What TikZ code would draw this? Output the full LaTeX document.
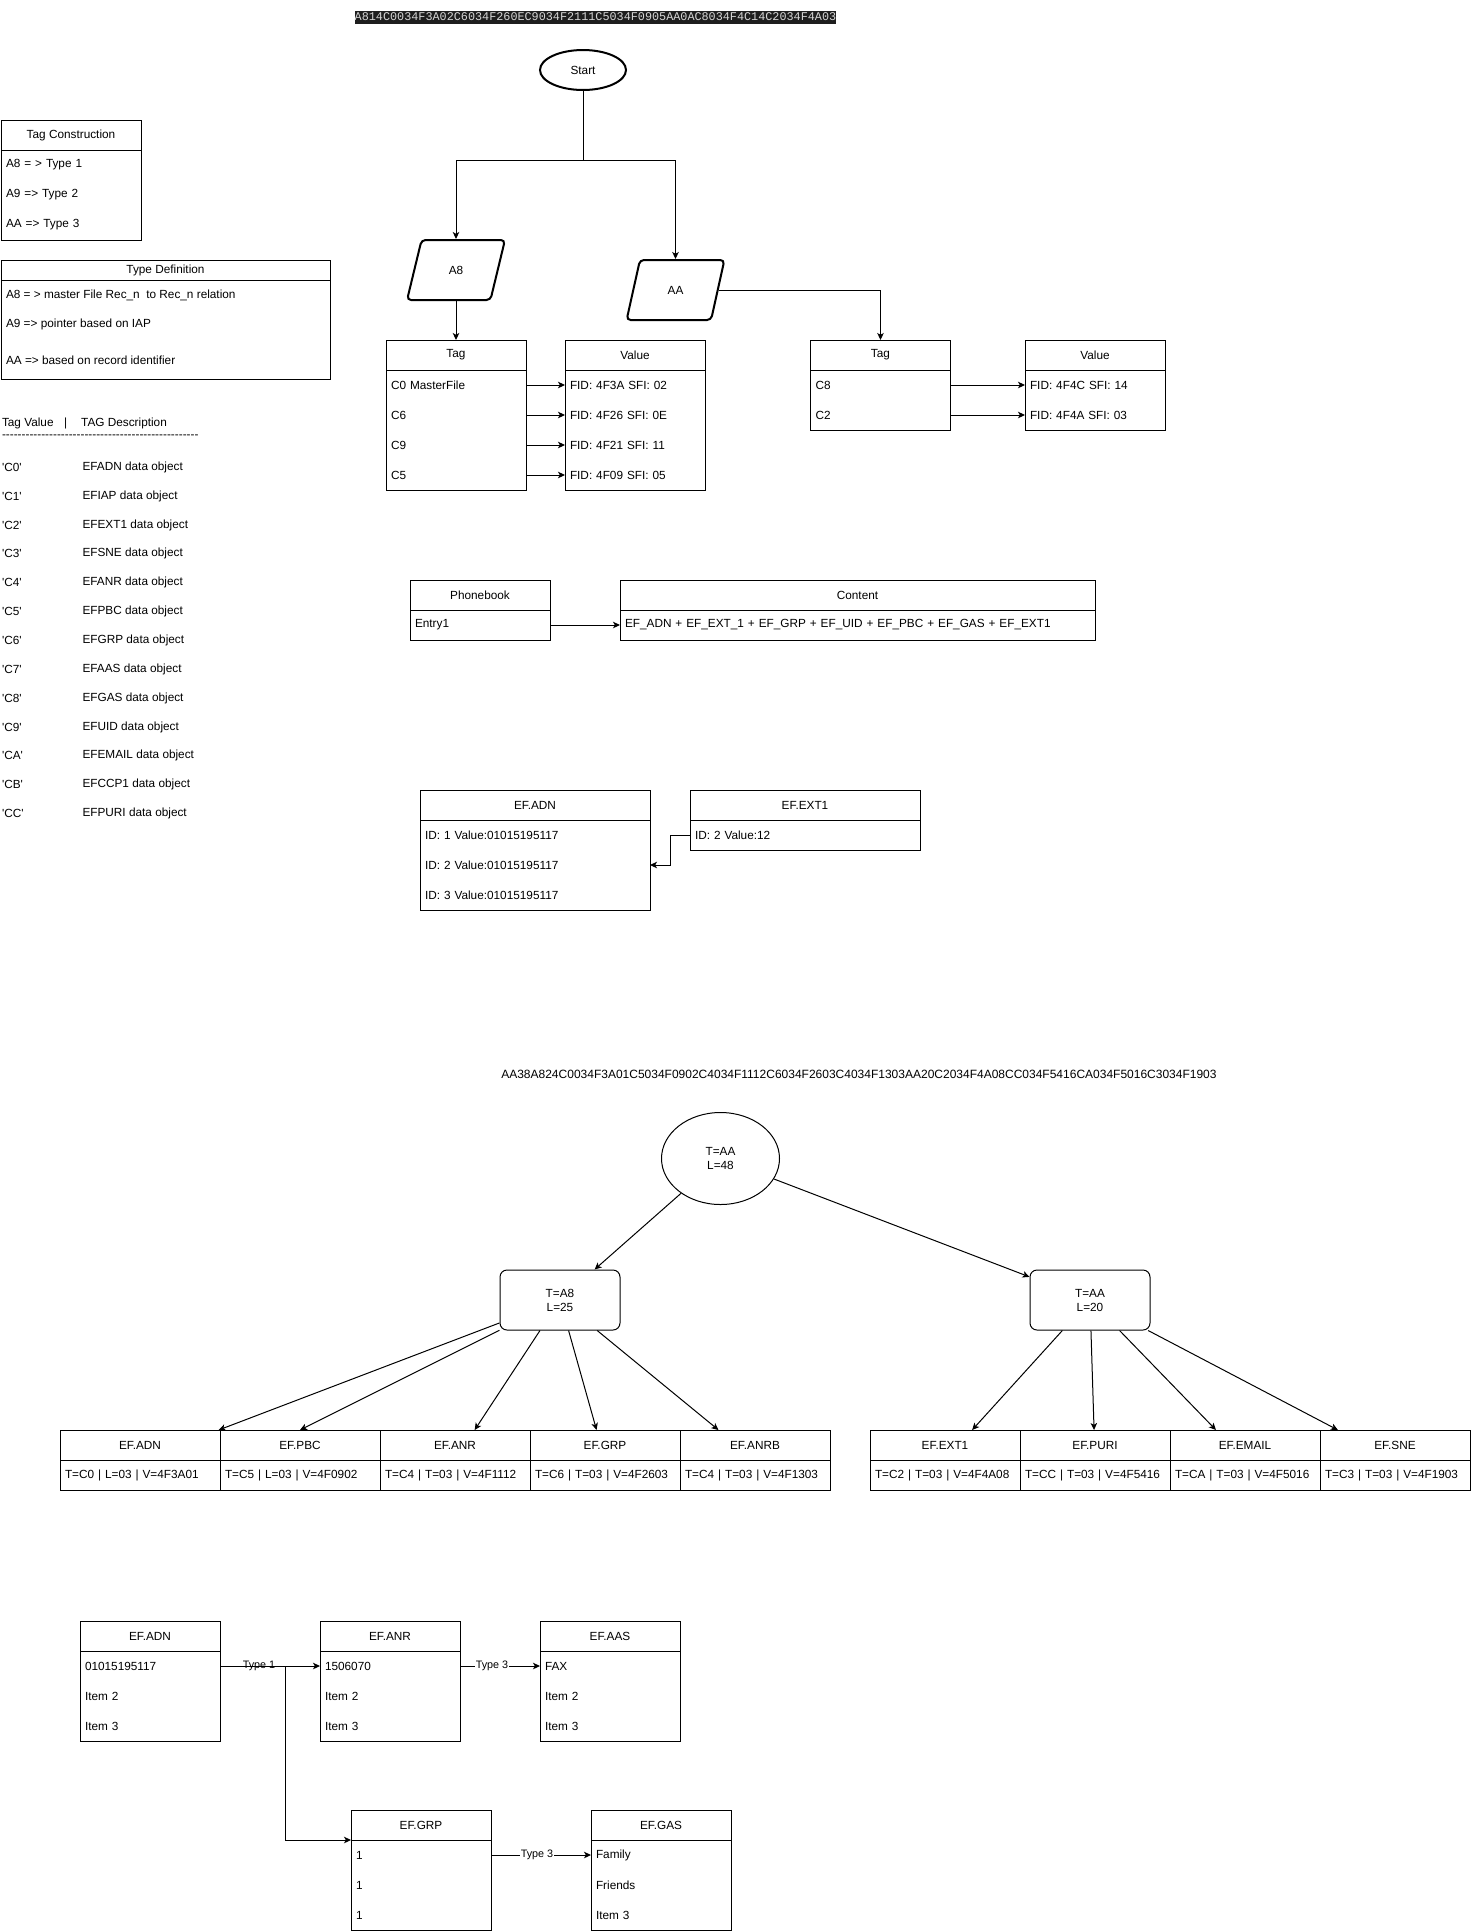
\documentclass[tikz,border=0pt]{standalone}
\usepackage{fontspec}
\setmainfont{Liberation Sans}[Ligatures=TeXOff]
\newfontfamily\codefont{Liberation Mono}
\usepackage{tikz}
\usetikzlibrary{shapes.geometric, arrows.meta, positioning, fit}
\definecolor{codebg}{RGB}{30,30,30}
\definecolor{codefg}{RGB}{214,214,214}
\tikzset{
  hdrcell/.style={rectangle, draw, minimum width=#1, minimum height=30,
    inner sep=0, outer sep=0},
  rowcell/.style={rectangle, text width=#1, align=left, minimum height=30,
    inner xsep=5, inner ysep=0, outer sep=0},
  txt/.style={anchor=west, inner sep=0, outer sep=0},
  startnode/.style={ellipse, draw, line width=2, minimum width=86,
    minimum height=40, inner sep=0},
  para/.style={trapezium, trapezium left angle=70, trapezium right angle=110,
    trapezium stretches=true, draw, line width=2, rounded corners=4,
    minimum width=98, minimum height=60, inner sep=0},
  rootnode/.style={ellipse, draw, minimum width=118, minimum height=92,
    align=center, inner sep=0},
  treenode/.style={rectangle, draw, rounded corners=7, minimum width=120,
    minimum height=60, align=center, inner sep=0},
  grpbox/.style={rectangle, inner sep=0, outer sep=0},
  lbl/.style={fill=white, inner sep=1, font=\fontsize{10.8}{12}\selectfont},
  arrow/.style={-{Stealth[length=7pt, width=6.5pt, inset=1.8pt]}}
}

\begin{document}
\begin{tikzpicture}[x=1pt, y=-1pt, line width=1, font=\fontsize{11.8}{14}\selectfont]
  \useasboundingbox (0,0) rectangle (1472,1931);

  % hex string on top
  \node[fill=codebg, text=codefg, font=\codefont\fontsize{11.8}{13}\selectfont,
    inner xsep=0, inner ysep=1, minimum height=13] (hexa) at (595.5,17)
    {A814C0034F3A02C6034F260EC9034F2111C5034F0905AA0AC8034F4C14C2034F4A03};

  % flow
  \node[startnode] (start) at (583,70) {Start};
  \coordinate (split) at (583,160);
  \node[para] (a8) at (456,270) {A8};
  \node[para] (aa) at (675.5,290) {AA};
  \draw (start) -- (split);
  \draw[arrow] (split) -| (a8);
  \draw[arrow] (split) -| (aa);

  % A8 tag / value
  \node[hdrcell=140] (tga) at (456,355) {Tag};
  \node[rowcell=130pt, below=0pt of tga] (tga1) {C0 MasterFile};
  \node[rowcell=130pt, below=0pt of tga1] (tga2) {C6};
  \node[rowcell=130pt, below=0pt of tga2] (tga3) {C9};
  \node[rowcell=130pt, below=0pt of tga3] (tga4) {C5};
  \draw (tga.south west) rectangle (tga4.south east);
  \node[hdrcell=140] (vla) at (635,355) {Value};
  \node[rowcell=130pt, below=0pt of vla] (vla1) {FID: 4F3A SFI: 02};
  \node[rowcell=130pt, below=0pt of vla1] (vla2) {FID: 4F26 SFI: 0E};
  \node[rowcell=130pt, below=0pt of vla2] (vla3) {FID: 4F21 SFI: 11};
  \node[rowcell=130pt, below=0pt of vla3] (vla4) {FID: 4F09 SFI: 05};
  \draw (vla.south west) rectangle (vla4.south east);
  \draw[arrow] (a8) -- (tga);
  \foreach \i in {1,...,4}
    \draw[arrow] (tga\i) -- (vla\i);

  % AA tag / value
  \node[hdrcell=140] (tgb) at (880.5,355) {Tag};
  \node[rowcell=130pt, below=0pt of tgb] (tgb1) {C8};
  \node[rowcell=130pt, below=0pt of tgb1] (tgb2) {C2};
  \draw (tgb.south west) rectangle (tgb2.south east);
  \node[hdrcell=140] (vlb) at (1095,355) {Value};
  \node[rowcell=130pt, below=0pt of vlb] (vlb1) {FID: 4F4C SFI: 14};
  \node[rowcell=130pt, below=0pt of vlb1] (vlb2) {FID: 4F4A SFI: 03};
  \draw (vlb.south west) rectangle (vlb2.south east);
  \draw[arrow] (aa) -| (tgb);
  \draw[arrow] (tgb1) -- (vlb1);
  \draw[arrow] (tgb2) -- (vlb2);

  % legend boxes
  \node[hdrcell=140] (tcn) at (71,135) {Tag Construction};
  \node[rowcell=130pt, below=0pt of tcn] (tcn1) {A8 = > Type 1};
  \node[rowcell=130pt, below=0pt of tcn1] (tcn2) {A9 => Type 2};
  \node[rowcell=130pt, below=0pt of tcn2] (tcn3) {AA => Type 3};
  \draw (tcn.south west) rectangle (tcn3.south east);

  \node[hdrcell=329, minimum height=20] (tdf) at (165.5,270) {Type Definition};
  \draw (tdf.south west) rectangle ++(329,99);
  \node[txt] (tdf1) at (6,295) {A8 = > master File Rec\_n \ to Rec\_n relation};
  \node[txt] (tdf2) at (6,324.5) {A9 => pointer based on IAP};
  \node[txt] (tdf3) at (6,360) {AA => based on record identifier};

  % tag list
  \node[txt] (tvh) at (2,423) {Tag Value\hspace{10.5pt}|\hspace{14pt}TAG Description};
  \node[txt] (tvd) at (2,437) {--------------------------------------------------};
  \foreach \tv/\td [count=\i from 0] in {C0/EFADN, C1/EFIAP, C2/EFEXT1, C3/EFSNE,
      C4/EFANR, C5/EFPBC, C6/EFGRP, C7/EFAAS, C8/EFGAS, C9/EFUID, CA/EFEMAIL,
      CB/EFCCP1, CC/EFPURI} {
    \node[txt] (tv\i) at (2,{467.3+28.85*\i}) {'\tv'};
    \node[txt] (td\i) at (82.5,{467.3+28.85*\i}) {\td\ data object};
  }

  % phonebook
  \node[hdrcell=140] (pbk) at (480,595) {Phonebook};
  \node[rowcell=130pt, below=0pt of pbk] (pbk1) {Entry1};
  \draw (pbk.south west) rectangle (pbk1.south east);
  \node[hdrcell=475] (cnt) at (857.5,595) {Content};
  \node[rowcell=465pt, below=0pt of cnt] (cnt1) {EF\_ADN + EF\_EXT\_1 + EF\_GRP + EF\_UID + EF\_PBC + EF\_GAS + EF\_EXT1};
  \draw (cnt.south west) rectangle (cnt1.south east);
  \draw[arrow] (pbk1) -- (cnt1);

  % EF.ADN / EF.EXT1
  \node[hdrcell=230] (madn) at (535,805) {EF.ADN};
  \node[rowcell=220pt, below=0pt of madn] (madn1) {ID: 1 Value:01015195117};
  \node[rowcell=220pt, below=0pt of madn1] (madn2) {ID: 2 Value:01015195117};
  \node[rowcell=220pt, below=0pt of madn2] (madn3) {ID: 3 Value:01015195117};
  \draw (madn.south west) rectangle (madn3.south east);
  \node[hdrcell=230] (mext) at (805,805) {EF.EXT1};
  \node[rowcell=220pt, below=0pt of mext] (mext1) {ID: 2 Value:12};
  \draw (mext.south west) rectangle (mext1.south east);
  \draw[arrow] (mext1.west) -- ++(-19.5,0) |- (madn2.east);

  % TLV string
  \node[font=\fontsize{12}{14}\selectfont] (hexb) at (859,1074) {AA38A824C0034F3A01C5034F0902C4034F1112C6034F2603C4034F1303AA20C2034F4A08CC034F5416CA034F5016C3034F1903};

  % TLV tree
  \node[rootnode] (root) at (720.5,1158.5) {T=AA\\L=48};
  \node[treenode] (ta8) at (560,1300) {T=A8\\L=25};
  \node[treenode] (taa) at (1090,1300) {T=AA\\L=20};
  \draw[arrow] (root) -- (ta8);
  \draw[arrow] (root) -- (taa);

  \node[hdrcell=160] (badn) at (140,1445) {EF.ADN};
  \node[hdrcell=160, right=0pt of badn] (bpbc) {EF.PBC};
  \node[hdrcell=150, right=0pt of bpbc] (banr) {EF.ANR};
  \node[hdrcell=150, right=0pt of banr] (bgrp) {EF.GRP};
  \node[hdrcell=150, right=0pt of bgrp] (banrb) {EF.ANRB};
  \node[rowcell=150pt, draw, below=0pt of badn] (badnv) {T=C0 | L=03 | V=4F3A01};
  \node[rowcell=150pt, draw, below=0pt of bpbc] (bpbcv) {T=C5 | L=03 | V=4F0902};
  \node[rowcell=140pt, draw, below=0pt of banr] (banrv) {T=C4 | T=03 | V=4F1112};
  \node[rowcell=140pt, draw, below=0pt of bgrp] (bgrpv) {T=C6 | T=03 | V=4F2603};
  \node[rowcell=140pt, draw, below=0pt of banrb] (banrbv) {T=C4 | T=03 | V=4F1303};
  \node[grpbox, fit=(badn)(badnv)] (gadn) {};
  \node[grpbox, fit=(bpbc)(bpbcv)] (gpbc) {};
  \node[grpbox, fit=(banr)(banrv)] (ganr) {};
  \node[grpbox, fit=(bgrp)(bgrpv)] (ggrp) {};
  \node[grpbox, fit=(banrb)(banrbv)] (ganrb) {};

  \node[hdrcell=150] (bext) at (945,1445) {EF.EXT1};
  \node[hdrcell=150, right=0pt of bext] (bpuri) {EF.PURI};
  \node[hdrcell=150, right=0pt of bpuri] (bmail) {EF.EMAIL};
  \node[hdrcell=150, right=0pt of bmail] (bsne) {EF.SNE};
  \node[rowcell=140pt, draw, below=0pt of bext] (bextv) {T=C2 | T=03 | V=4F4A08};
  \node[rowcell=140pt, draw, below=0pt of bpuri] (bpuriv) {T=CC | T=03 | V=4F5416};
  \node[rowcell=140pt, draw, below=0pt of bmail] (bmailv) {T=CA | T=03 | V=4F5016};
  \node[rowcell=140pt, draw, below=0pt of bsne] (bsnev) {T=C3 | T=03 | V=4F1903};
  \node[grpbox, fit=(bext)(bextv)] (gext) {};
  \node[grpbox, fit=(bpuri)(bpuriv)] (gpuri) {};
  \node[grpbox, fit=(bmail)(bmailv)] (gmail) {};
  \node[grpbox, fit=(bsne)(bsnev)] (gsne) {};

  \draw[arrow] (ta8) -- (gadn);
  \draw[arrow] (ta8) -- (gpbc.north);
  \draw[arrow] (ta8) -- (ganr);
  \draw[arrow] (ta8) -- (ggrp);
  \draw[arrow] (ta8) -- (ganrb);
  \draw[arrow] (taa) -- (gext);
  \draw[arrow] (taa) -- (gpuri);
  \draw[arrow] (taa) -- (gmail);
  \draw[arrow] (taa) -- (gsne);

  % linked files
  \node[hdrcell=140] (ladn) at (150,1636) {EF.ADN};
  \node[rowcell=130pt, below=0pt of ladn] (ladn1) {01015195117};
  \node[rowcell=130pt, below=0pt of ladn1] (ladn2) {Item 2};
  \node[rowcell=130pt, below=0pt of ladn2] (ladn3) {Item 3};
  \draw (ladn.south west) rectangle (ladn3.south east);
  \node[hdrcell=140] (lanr) at (390,1636) {EF.ANR};
  \node[rowcell=130pt, below=0pt of lanr] (lanr1) {1506070};
  \node[rowcell=130pt, below=0pt of lanr1] (lanr2) {Item 2};
  \node[rowcell=130pt, below=0pt of lanr2] (lanr3) {Item 3};
  \draw (lanr.south west) rectangle (lanr3.south east);
  \node[hdrcell=140] (laas) at (610,1636) {EF.AAS};
  \node[rowcell=130pt, below=0pt of laas] (laas1) {FAX};
  \node[rowcell=130pt, below=0pt of laas1] (laas2) {Item 2};
  \node[rowcell=130pt, below=0pt of laas2] (laas3) {Item 3};
  \draw (laas.south west) rectangle (laas3.south east);
  \node[hdrcell=140] (lgrp) at (421,1825) {EF.GRP};
  \node[rowcell=130pt, below=0pt of lgrp] (lgrp1) {1};
  \node[rowcell=130pt, below=0pt of lgrp1] (lgrp2) {1};
  \node[rowcell=130pt, below=0pt of lgrp2] (lgrp3) {1};
  \draw (lgrp.south west) rectangle (lgrp3.south east);
  \node[hdrcell=140] (lgas) at (661,1825) {EF.GAS};
  \node[rowcell=130pt, below=0pt of lgas] (lgas1) {Family};
  \node[rowcell=130pt, below=0pt of lgas1] (lgas2) {Friends};
  \node[rowcell=130pt, below=0pt of lgas2] (lgas3) {Item 3};
  \draw (lgas.south west) rectangle (lgas3.south east);

  \draw[arrow] (ladn1) -- node[lbl, pos=0.39] {Type 1} (lanr1);
  \draw[arrow] (ladn1.east) -- ++(65.5,0) |- (lgrp.south west);
  \draw[arrow] (lanr1) -- node[lbl, pos=0.4] {Type 3} (laas1);
  \draw[arrow] (lgrp1) -- node[lbl, pos=0.46] {Type 3} (lgas1);
\end{tikzpicture}
\end{document}
